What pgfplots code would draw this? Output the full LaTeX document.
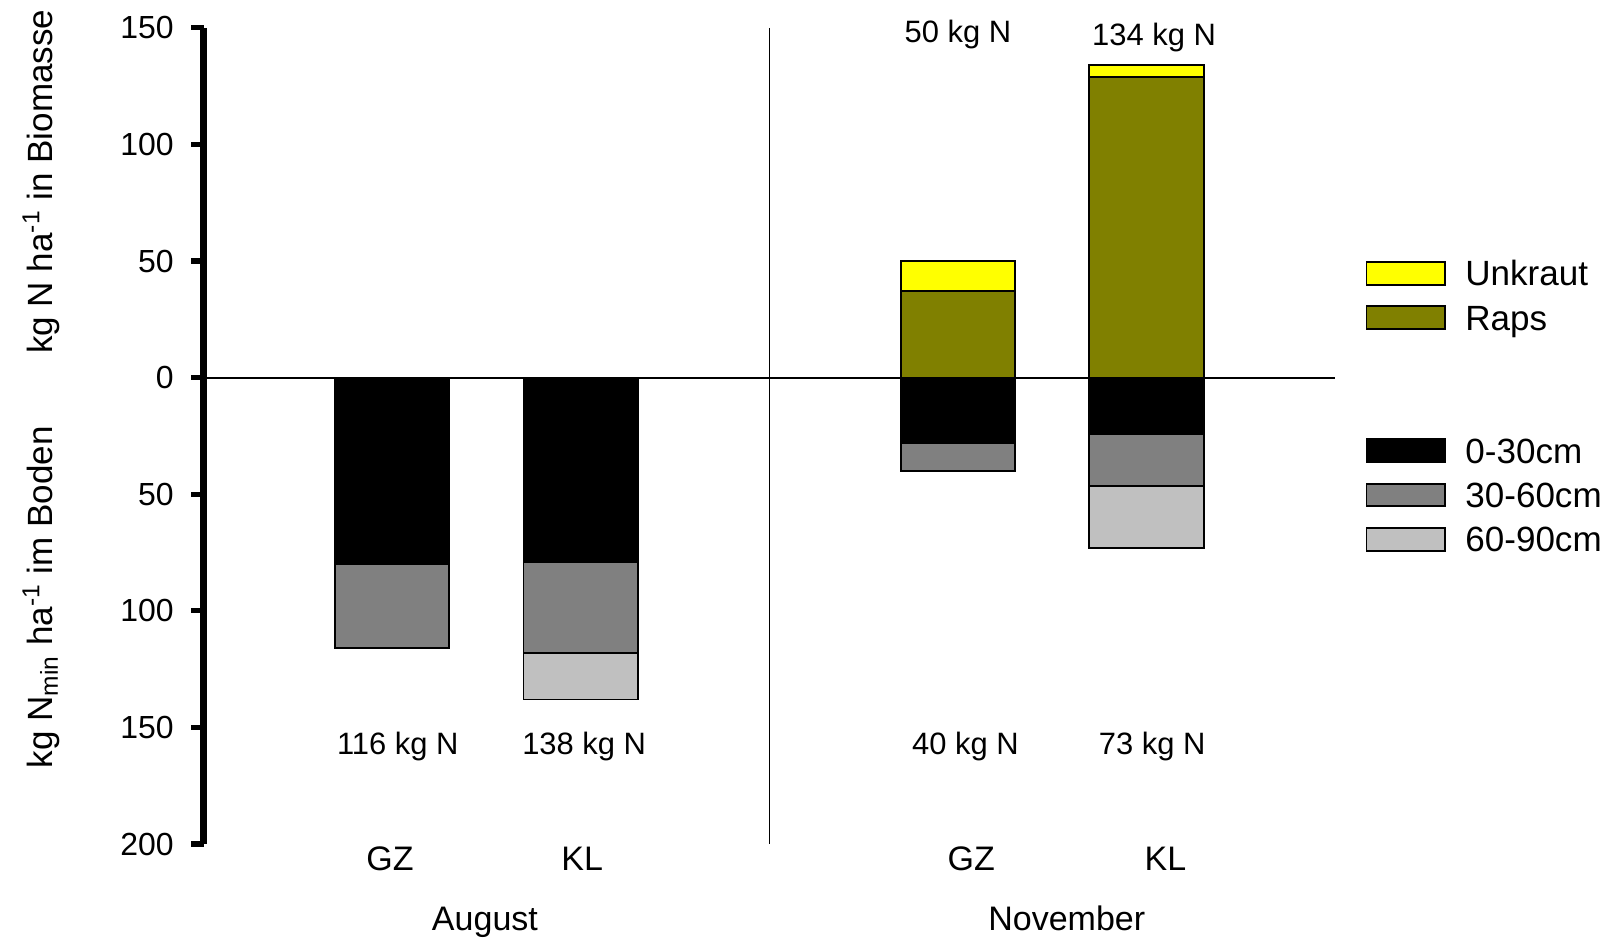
\documentclass[border=0pt]{standalone}
\usepackage{pgfplots}
\pgfplotsset{compat=1.18}
\usepackage{fontspec}
\setmainfont{Liberation Sans}
\definecolor{olivebar}{HTML}{808000}
\definecolor{midgray}{HTML}{808080}
\definecolor{lightgraybar}{HTML}{C0C0C0}
\definecolor{yellowbar}{HTML}{FFFF00}
\pgfplotsset{
  mybar/.style={ybar, bar width=55.5pt, bar shift=0pt, draw=black, line width=0.9pt, forget plot},
}
\begin{document}
\begin{tikzpicture}
\begin{axis}[
  name=ax,
  scale only axis,
  width=549pt, height=396pt,
  xmin=-1, xmax=5, ymin=-200, ymax=150,
  axis x line=none,
  axis y line*=left,
  y axis line style={line width=3pt},
  xtick=\empty,
  ytick={-200,-150,-100,-50,0,50,100,150},
  yticklabels={200,150,100,50,0,50,100,150},
  tick align=outside,
  major tick length=6pt,
  ytick style={line width=2.5pt, black},
  yticklabel style={font=\fontsize{15.5}{18}\selectfont, xshift=-5pt},
  clip=false,
  legend cell align=left,
  legend image code/.code={\path[draw=none, fill=none] (0pt,0pt) rectangle (48pt,0.1pt); \draw[#1, line width=0.9pt] (0pt,-5.5pt) rectangle (38pt,5.5pt);},
  legend style={at={(axis cs:5.161,54.2)}, anchor=north west, draw=none, fill=none,
    inner sep=0pt, outer sep=0pt, row sep=0pt, column sep=0pt,
    font=\fontsize{17}{20}\selectfont,
    nodes={inner sep=0pt, text height=16.85pt, text depth=4.65pt}},
]
% zero line and separator
\draw[line width=1pt] (axis cs:-1,0) -- (axis cs:5,0);
\draw[line width=0.6pt] (axis cs:2,150) -- (axis cs:2,-200);

% soil N (cumulative depth, plotted downward)
\addplot[mybar, fill=lightgraybar] coordinates {(1,-138) (4,-73)};
\addplot[mybar, fill=midgray] coordinates {(0,-116) (1,-118) (3,-40) (4,-46.5)};
\addplot[mybar, fill=black] coordinates {(0,-80) (1,-79) (3,-28) (4,-24)};
% biomass N (cumulative, plotted upward)
\addplot[mybar, fill=yellowbar] coordinates {(3,50) (4,134)};
\addplot[mybar, fill=olivebar] coordinates {(3,37) (4,129)};

\addlegendimage{fill=yellowbar, draw=black}
\addlegendentry{Unkraut}
\addlegendimage{fill=olivebar, draw=black}
\addlegendentry{Raps}
\addlegendimage{empty legend}
\addlegendentry{}
\addlegendimage{empty legend}
\addlegendentry{}
\addlegendimage{fill=black, draw=black}
\addlegendentry{0-30cm}
\addlegendimage{fill=midgray, draw=black}
\addlegendentry{30-60cm}
\addlegendimage{fill=lightgraybar, draw=black}
\addlegendentry{60-90cm}

% value labels
\begin{scope}[every node/.style={font=\fontsize{15}{18}\selectfont, anchor=base}]
\node at (axis cs:0.03,-161.5) {116 kg N};
\node at (axis cs:1.018,-161.5) {138 kg N};
\node at (axis cs:3.04,-161.5) {40 kg N};
\node at (axis cs:4.03,-161.5) {73 kg N};
\node at (axis cs:3.0,143.6) {50 kg N};
\node at (axis cs:4.04,142.4) {134 kg N};
\end{scope}
% category labels
\begin{scope}[every node/.style={font=\fontsize{16.5}{19}\selectfont, anchor=base}]
\node at (axis cs:-0.011,-211.3) {GZ};
\node at (axis cs:1.008,-211.3) {KL};
\node at (axis cs:3.07,-211.3) {GZ};
\node at (axis cs:4.1,-211.3) {KL};
\node at (axis cs:0.492,-237.1) {August};
\node at (axis cs:3.577,-237.1) {November};
\end{scope}
% y axis labels
\node[rotate=90, font=\fontsize{17}{20}\selectfont] at (axis cs:-1.861,84) {kg N ha\textsuperscript{-1} in Biomasse};
\node[rotate=90, font=\fontsize{17}{20}\selectfont] at (axis cs:-1.861,-94.2) {kg N\textsubscript{min} ha\textsuperscript{-1} im Boden};
\end{axis}
\pgfresetboundingbox
\path[use as bounding box] ([xshift=-98.75pt,yshift=-47pt]ax.south west) rectangle ([xshift=136.25pt,yshift=13.5pt]ax.north east);
\end{tikzpicture}
\end{document}
